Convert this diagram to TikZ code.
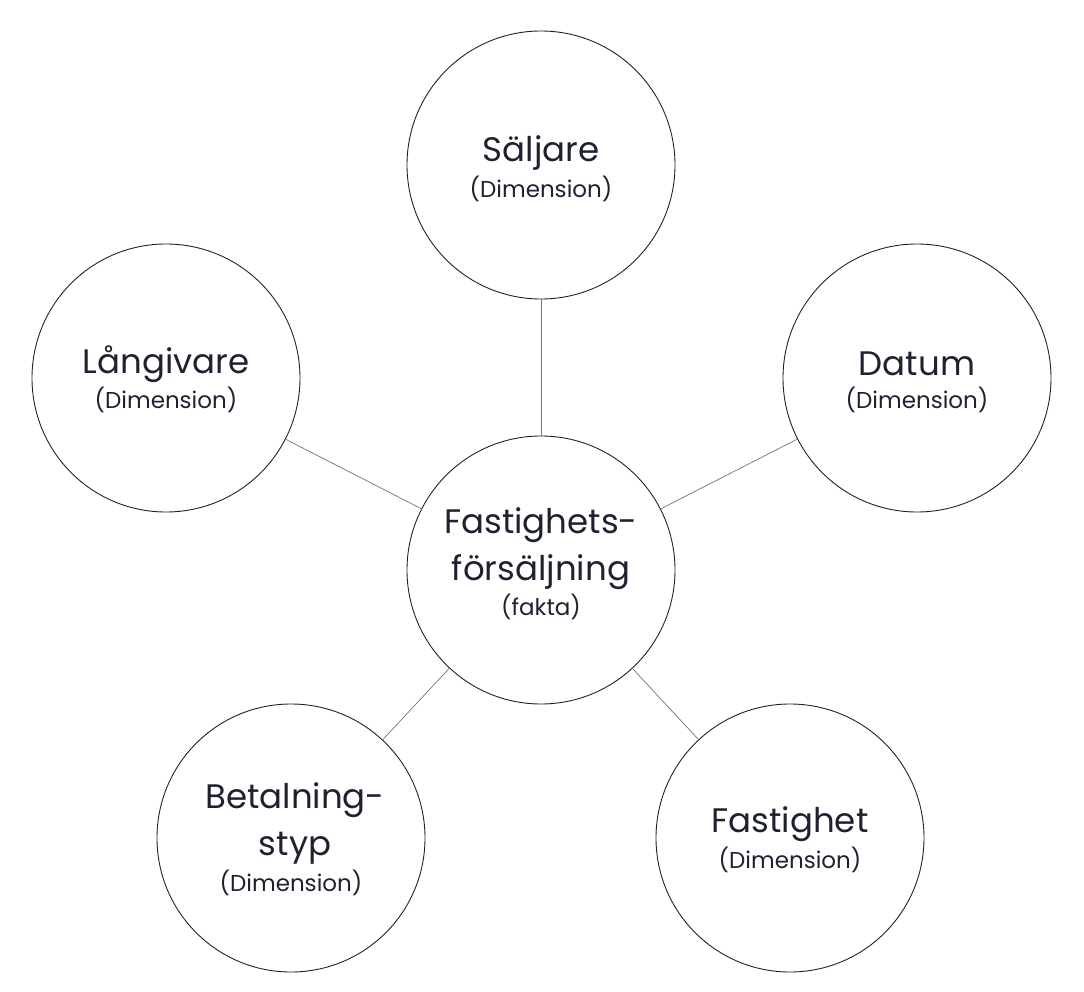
\documentclass[tikz,border=0pt]{standalone}
\usepackage{fontspec}
\setmainfont{Poppins}
\definecolor{ink}{HTML}{1E2230}
\begin{document}
\begin{tikzpicture}[x=1pt,y=-1pt,
  ent/.style={circle,draw=ink,line width=0.9pt,minimum size=268pt,inner sep=0pt},
  ttl/.style={font=\fontsize{34}{47}\selectfont,text=ink,align=center},
  sub/.style={font=\fontsize{23}{26}\selectfont,text=ink},
  lk/.style={draw=black!55,line width=0.7pt}]
\useasboundingbox (0,0) rectangle (1084,992);
\node[ent] (f) at (541,570) {};
\node[ent] (s) at (541,165) {};
\node[ent] (l) at (166,378) {};
\node[ent] (d) at (917,378) {};
\node[ent] (b) at (291,838) {};
\node[ent] (g) at (790,838) {};
\draw[lk] (f) -- (s); \draw[lk] (f) -- (l); \draw[lk] (f) -- (d);
\draw[lk] (f) -- (b); \draw[lk] (f) -- (g);
\node[ttl] (ft) at (541,549) {Fastighets-\\försäljning};
\node[sub] (fs) at (541,607) {(fakta)};
\node[ttl] (st) at (541,153) {Säljare};
\node[sub] (ss) at (541,189) {(Dimension)};
\node[ttl] (lt) at (166,364) {Långivare};
\node[sub] (ls) at (166,400) {(Dimension)};
\node[ttl] (dt) at (917,364) {Datum};
\node[sub] (ds) at (917,400) {(Dimension)};
\node[ttl] (bt) at (295,823) {Betalning-\\styp};
\node[sub] (bs) at (291,883) {(Dimension)};
\node[ttl] (gt) at (790,824) {Fastighet};
\node[sub] (gs) at (790,860) {(Dimension)};
\end{tikzpicture}
\end{document}
